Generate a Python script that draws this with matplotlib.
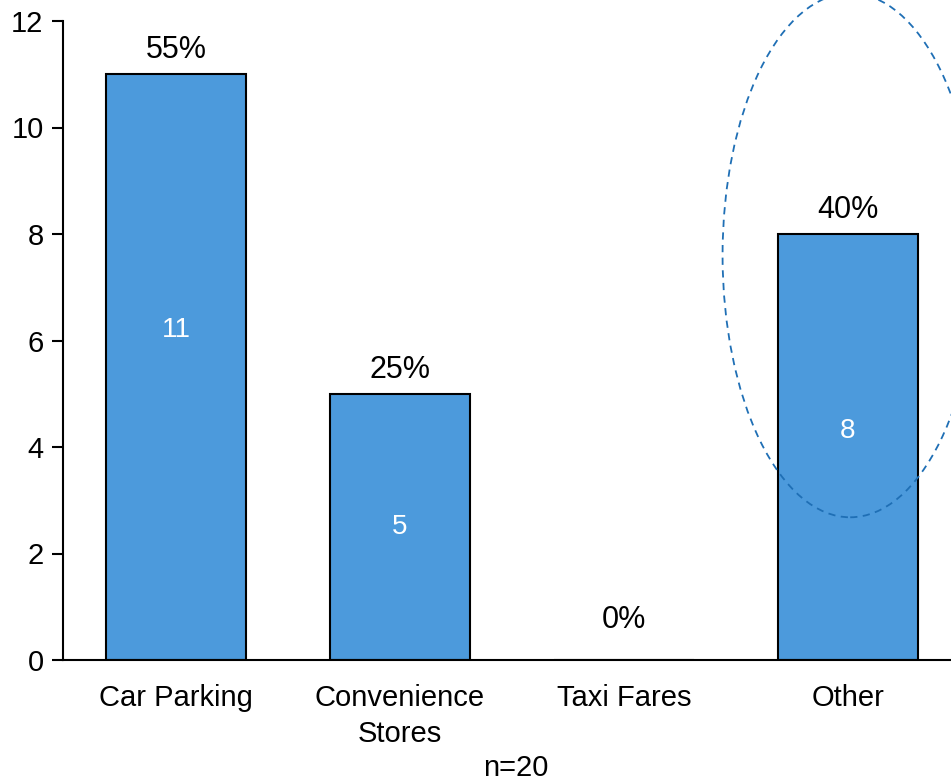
import matplotlib.pyplot as plt
from matplotlib.patches import Ellipse

# Data
categories = ["Car Parking", "Convenience\nStores", "Taxi Fares", "Other"]
counts = [11, 5, 0, 8]
n_total = 20

plt.rcParams['font.family'] = ['Liberation Sans', 'DejaVu Sans']

fig = plt.figure(figsize=(9.51, 7.83), dpi=100)
ax = fig.add_axes([63 / 951, 123 / 783, 888 / 951, 639 / 783])

x = range(len(categories))
bars = ax.bar(x, counts, width=0.625, color='#4C9ADC', edgecolor='black', linewidth=1.5)

# Percent labels above bars, counts inside
inner_y = [6.2, 2.5, None, 4.3]
for i, (b, c) in enumerate(zip(bars, counts)):
    pct = f"{c / n_total * 100:.0f}%"
    top = c + 0.45 if c > 0 else 0.75
    ax.text(b.get_x() + b.get_width() / 2, top, pct, ha='center', va='center', fontsize=22)
    if c > 0:
        ax.text(b.get_x() + b.get_width() / 2, inner_y[i], str(c), ha='center', va='center',
                fontsize=20, color='white')

# Highlight ellipse around "Other"
ell = Ellipse((3.01, 7.6), width=1.14, height=9.84, fill=False, edgecolor='#1F6FB5',
              linestyle=(0, (4, 3)), linewidth=1.3, clip_on=False)
ax.add_patch(ell)

ax.set_xlim(-0.505, 3.46)
ax.set_ylim(0, 12)
ax.set_yticks(range(0, 13, 2))
ax.set_xticks(list(x))
ax.set_xticklabels(categories, fontsize=21, linespacing=1.38)
ax.tick_params(axis='y', labelsize=21, length=8, width=1.5, direction='out', pad=6)
ax.tick_params(axis='x', length=0, pad=17)

for s in ['top', 'right']:
    ax.spines[s].set_visible(False)
ax.spines['left'].set_linewidth(1.5)
ax.spines['bottom'].set_linewidth(1.5)

fig.text(516 / 951, 1 - 768 / 783, f"n={n_total}", ha='center', va='center', fontsize=21)

plt.savefig("out.png", dpi=100)
